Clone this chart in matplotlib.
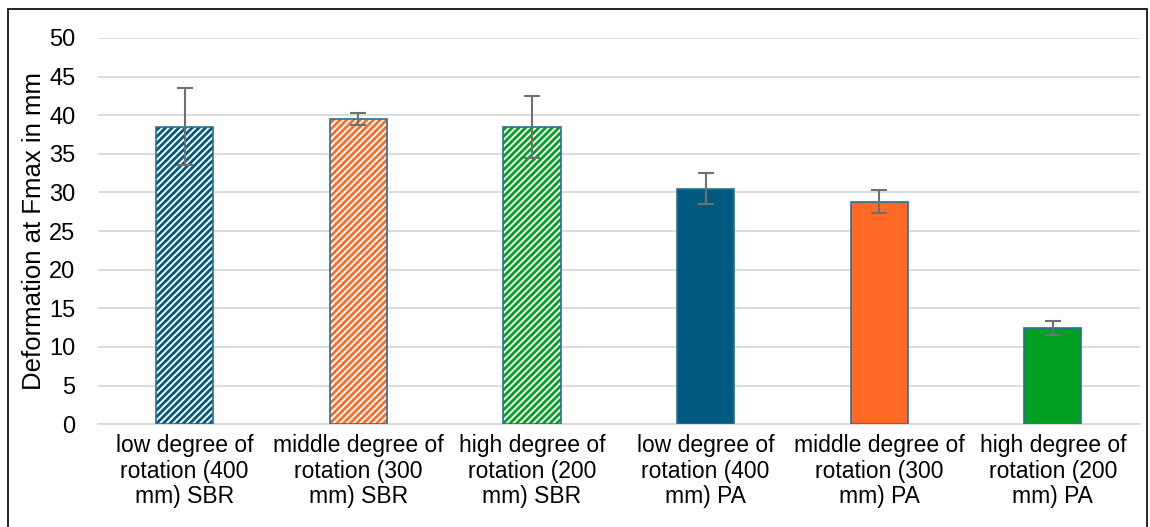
import matplotlib.pyplot as plt
import matplotlib as mpl
from matplotlib.patches import Rectangle

categories = [
    "low degree of\nrotation (400\nmm) SBR",
    "middle degree of\nrotation (300\nmm) SBR",
    "high degree of\nrotation (200\nmm) SBR",
    "low degree of\nrotation (400\nmm) PA",
    "middle degree of\nrotation (300\nmm) PA",
    "high degree of\nrotation (200\nmm) PA",
]
values = [38.5, 39.5, 38.5, 30.5, 28.8, 12.4]
errors = [5.0, 0.8, 4.0, 2.0, 1.5, 0.9]
colors = ["#005A7F", "#FF6B26", "#00A020", "#005A7F", "#FF6B26", "#00A020"]
hatched = [True, True, True, False, False, False]

plt.rcParams['font.family'] = ['Liberation Sans', 'DejaVu Sans']
mpl.rcParams['hatch.linewidth'] = 2.0

fig = plt.figure(figsize=(11.5, 5.27), dpi=100)
ax = fig.add_axes([0.085, 0.195, 0.906, 0.733])

x = range(len(categories))
for i in x:
    if hatched[i]:
        mpl.rcParams['hatch.color'] = colors[i]
        ax.bar(i, values[i], width=0.33, color='white', edgecolor=colors[i],
               hatch='/////', linewidth=0, zorder=3)
        ax.bar(i, values[i], width=0.33, fill=False, edgecolor='#2A6F97',
               linewidth=1.2, zorder=4)
    else:
        ax.bar(i, values[i], width=0.33, color=colors[i], edgecolor='#2A6F97',
               linewidth=1.2, zorder=3)

ax.errorbar(list(x), values, yerr=errors, fmt='none', ecolor='#707070',
            elinewidth=1.5, capsize=6, capthick=1.5, zorder=5)

ax.set_ylim(0, 50)
ax.set_xlim(-0.5, 5.5)
ax.set_yticks(range(0, 51, 5))
ax.yaxis.grid(True, color='#D9D9D9', linewidth=1.3, zorder=0)
ax.set_axisbelow(True)
for s in ['top', 'right', 'left']:
    ax.spines[s].set_visible(False)
ax.spines['bottom'].set_color('#D9D9D9')
ax.spines['bottom'].set_linewidth(1.3)
ax.tick_params(axis='both', length=0, colors='#000000')
ax.tick_params(axis='x', labelsize=16.5, pad=7)
ax.tick_params(axis='y', labelsize=17, pad=16)
ax.set_xticks(list(x))
ax.set_xticklabels(categories, linespacing=1.15)
ax.set_ylabel('Deformation at Fmax in mm', fontsize=18.5, labelpad=2)

fig.patches.append(Rectangle((0.007, -0.05), 0.99, 1.032, transform=fig.transFigure,
                             fill=False, edgecolor='black', linewidth=1.2))

fig.savefig('out.png', dpi=100)
